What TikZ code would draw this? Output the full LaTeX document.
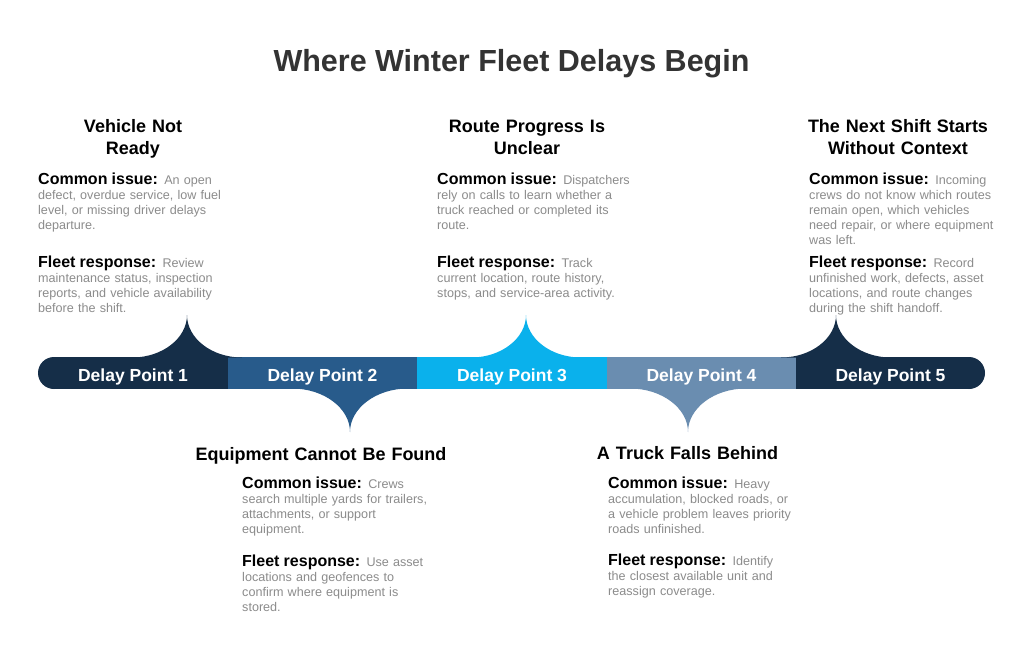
\documentclass[tikz,border=0pt]{standalone}
\usepackage{fontspec}
\setmainfont{Liberation Sans}
\definecolor{segA}{HTML}{152E48}
\definecolor{segB}{HTML}{285B8B}
\definecolor{segC}{HTML}{0AB1EC}
\definecolor{segD}{HTML}{6A8DB0}
\definecolor{txtgray}{HTML}{8C8C8C}
\definecolor{titlegray}{HTML}{333333}
\newcommand\keylab[1]{{\color{black}\fontsize{16}{15}\selectfont\bfseries #1}}
\newcommand\upbump[2]{\fill[#2] (#1-55,357.5) .. controls (#1-24.6,357.5) and (#1,338.2) .. (#1,315) .. controls (#1,338.2) and (#1+24.6,357.5) .. (#1+55,357.5) -- cycle;}
\newcommand\downbump[2]{\fill[#2] (#1-58,388.5) .. controls (#1-26,388.5) and (#1,408.3) .. (#1,432) .. controls (#1,408.3) and (#1+26,388.5) .. (#1+58,388.5) -- cycle;}
\begin{document}
\begin{tikzpicture}[x=1pt,y=-1pt,
  lbl/.style={text=white, font=\fontsize{17.5}{20}\selectfont\bfseries, anchor=base, inner sep=0},
  head/.style={font=\fontsize{18}{22}\selectfont\bfseries, align=center, text width=260pt, anchor=base, inner sep=0},
  body/.style={font=\fontsize{12.6}{15}\selectfont, text=txtgray, align=left, text width=260pt, anchor=base west, inner sep=0}]
\useasboundingbox[fill=white] (0,0) rectangle (1024,651);

% title
\node[anchor=base, inner sep=0, text=titlegray, font=\fontsize{30.5}{34}\selectfont\bfseries] (title) at (511.5,71) {Where Winter Fleet Delays Begin};

% bar segments
\fill[segA] (54,357) rectangle (228.5,389);
\fill[segA] (54,373) circle[radius=16pt];
\fill[segB] (228,357) rectangle (417.5,389);
\fill[segC] (417,357) rectangle (607.5,389);
\fill[segD] (607,357) rectangle (796.5,389);
\fill[segA] (796,357) rectangle (969,389);
\fill[segA] (969,373) circle[radius=16pt];

% bumps
\upbump{187}{segA}
\downbump{350}{segB}
\upbump{526}{segC}
\downbump{688}{segD}
\upbump{836}{segA}

% labels on bar
\node[lbl] (d1) at (133,381) {Delay Point 1};
\node[lbl] (d2) at (322.5,381) {Delay Point 2};
\node[lbl] (d3) at (512,381) {Delay Point 3};
\node[lbl] (d4) at (701.5,381) {Delay Point 4};
\node[lbl] (d5) at (890.5,381) {Delay Point 5};

% block 1
\node[head] (h1) at (133,132) {Vehicle Not\\Ready};
\node[body] (i1) at (38,184) {\keylab{Common issue:} An open\\defect, overdue service, low fuel\\level, or missing driver delays\\departure.};
\node[body] (r1) at (38,267) {\keylab{Fleet response:} Review\\maintenance status, inspection\\reports, and vehicle availability\\before the shift.};

% block 3
\node[head] (h3) at (527,132) {Route Progress Is\\Unclear};
\node[body] (i3) at (437,184) {\keylab{Common issue:} Dispatchers\\rely on calls to learn whether a\\truck reached or completed its\\route.};
\node[body] (r3) at (437,267) {\keylab{Fleet response:} Track\\current location, route history,\\stops, and service-area activity.};

% block 5
\node[head] (h5) at (898,132) {The Next Shift Starts\\Without Context};
\node[body] (i5) at (809,184) {\keylab{Common issue:} Incoming\\crews do not know which routes\\remain open, which vehicles\\need repair, or where equipment\\was left.};
\node[body] (r5) at (809,267) {\keylab{Fleet response:} Record\\unfinished work, defects, asset\\locations, and route changes\\during the shift handoff.};

% block 2
\node[head] (h2) at (321,460) {Equipment Cannot Be Found};
\node[body] (i2) at (242,488) {\keylab{Common issue:} Crews\\search multiple yards for trailers,\\attachments, or support\\equipment.};
\node[body] (r2) at (242,566) {\keylab{Fleet response:} Use asset\\locations and geofences to\\confirm where equipment is\\stored.};

% block 4
\node[head] (h4) at (687.5,459) {A Truck Falls Behind};
\node[body] (i4) at (608,488) {\keylab{Common issue:} Heavy\\accumulation, blocked roads, or\\a vehicle problem leaves priority\\roads unfinished.};
\node[body] (r4) at (608,565) {\keylab{Fleet response:} Identify\\the closest available unit and\\reassign coverage.};
\end{tikzpicture}
\end{document}
